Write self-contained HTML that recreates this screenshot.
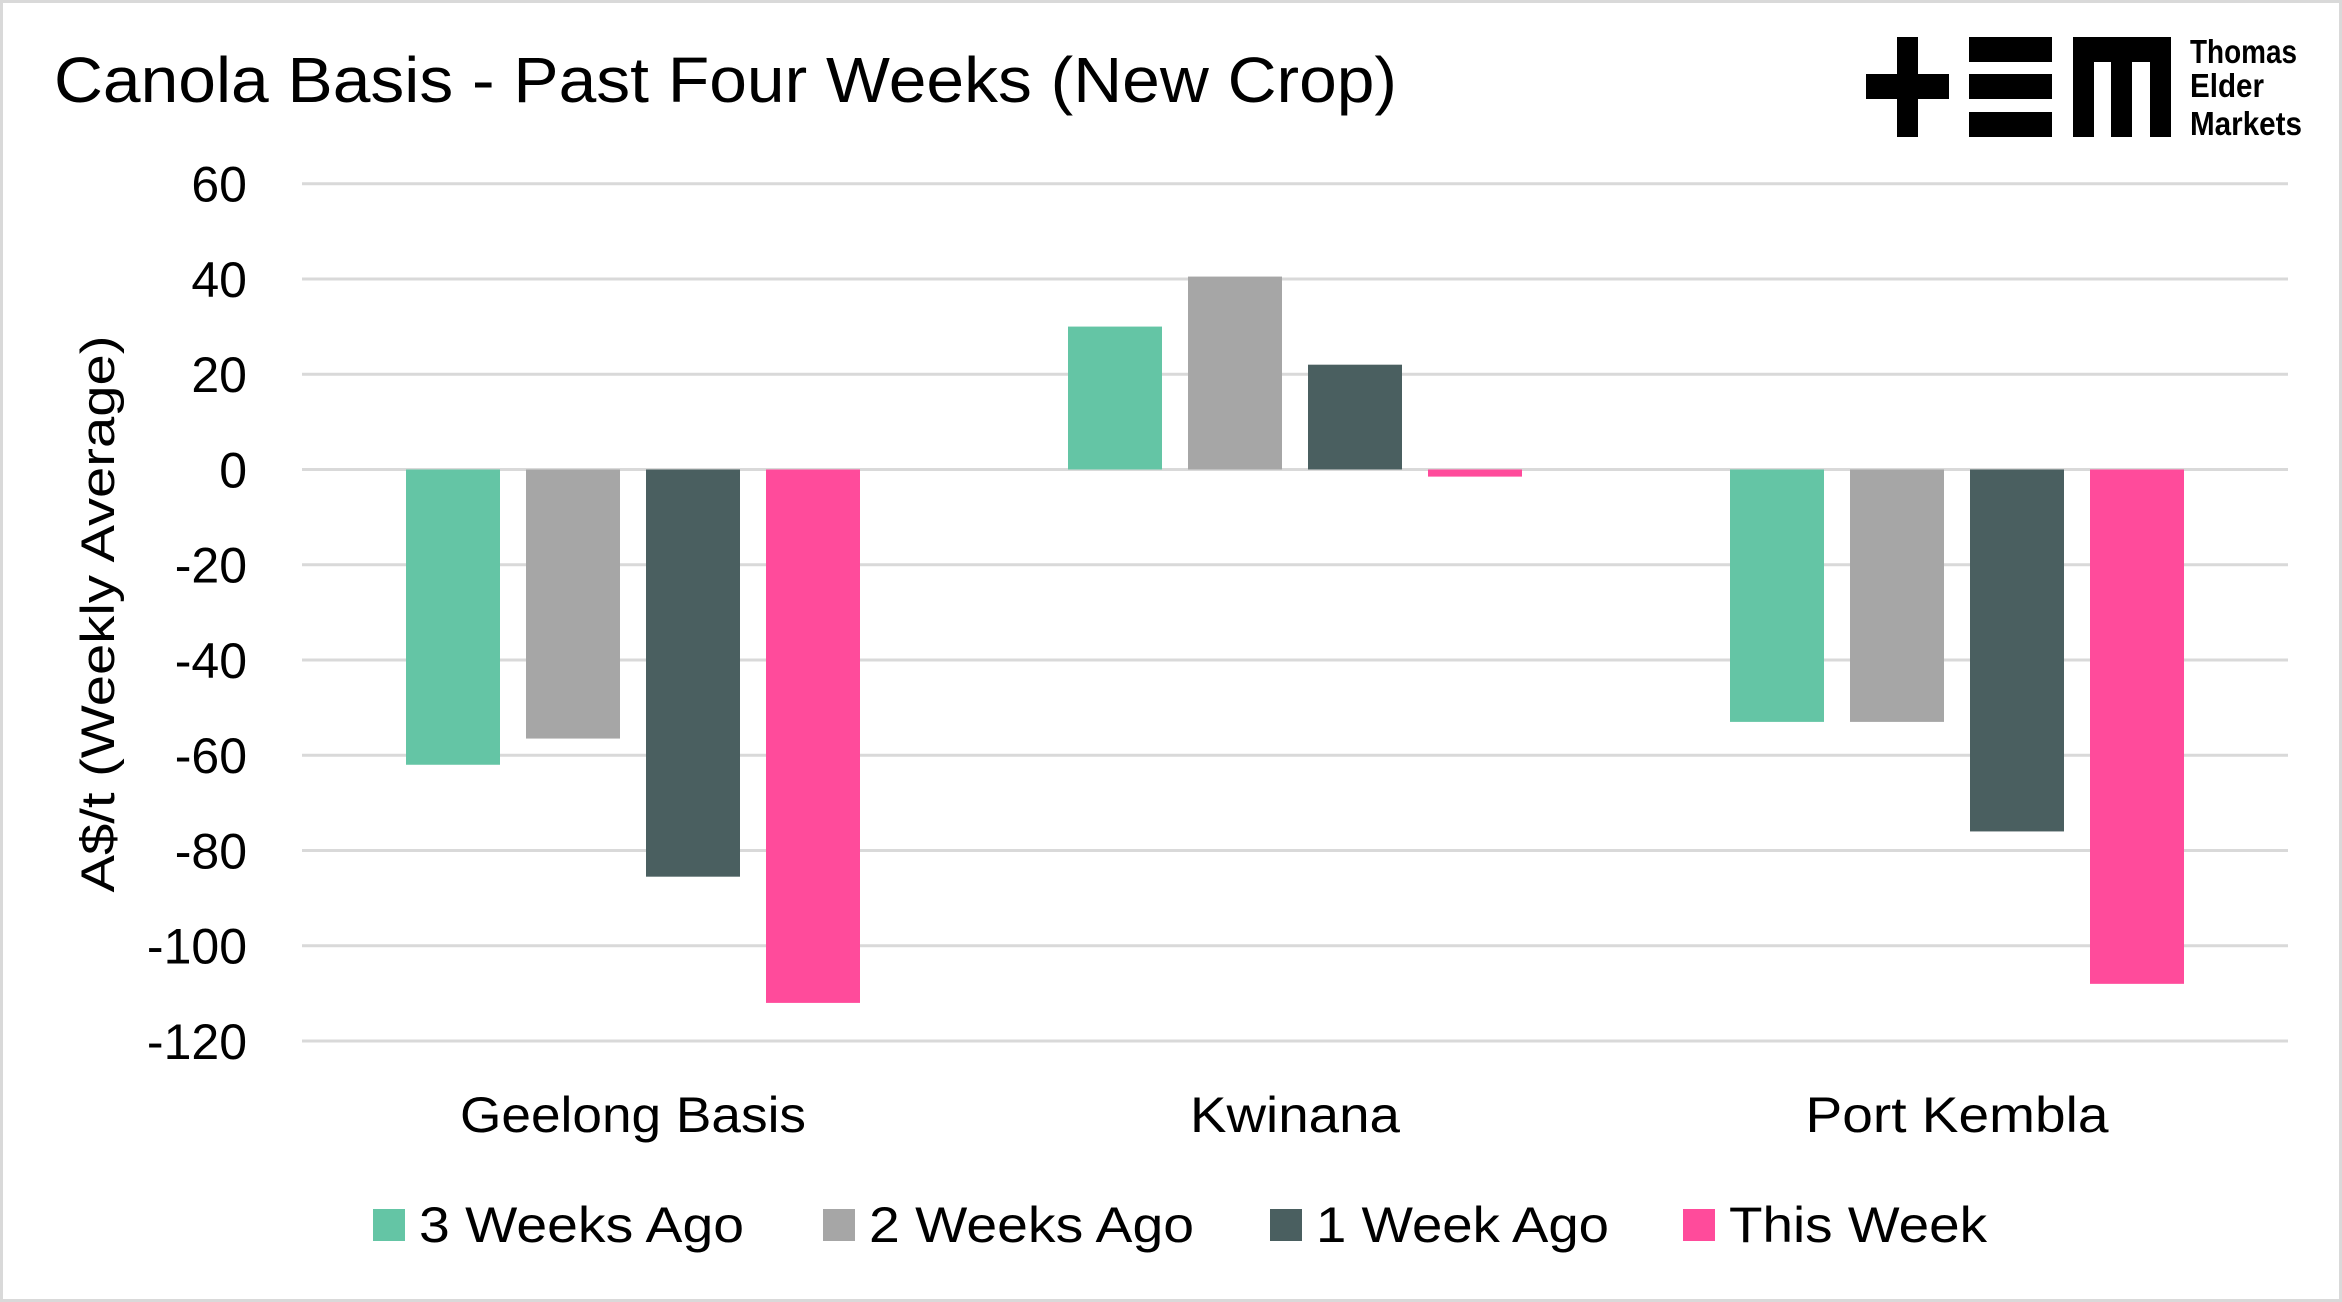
<!DOCTYPE html>
<html><head><meta charset="utf-8"><style>
html,body{margin:0;padding:0;background:#fff}
svg{display:block;font-family:"Liberation Sans",sans-serif}
</style></head><body>
<svg id="chart" width="2342" height="1302" viewBox="0 0 2342 1302" xmlns="http://www.w3.org/2000/svg">
<rect x="1.5" y="1.5" width="2339" height="1299" fill="#fff" stroke="#d9d9d9" stroke-width="3"/>
<text x="54" y="102" font-size="64" textLength="1343" lengthAdjust="spacingAndGlyphs" fill="#000">Canola Basis - Past Four Weeks (New Crop)</text>
<g fill="#000">
<rect x="1897" y="37" width="21" height="100"/><rect x="1866" y="74" width="83" height="25"/>
<rect x="1969" y="37" width="83" height="25"/><rect x="1969" y="74" width="83" height="25"/><rect x="1969" y="112" width="83" height="25"/>
<rect x="2073" y="37" width="98" height="25"/><rect x="2073" y="37" width="21" height="100"/><rect x="2111" y="37" width="21" height="100"/><rect x="2150" y="37" width="21" height="100"/>
<text x="2190" y="63" font-size="33" font-weight="bold" textLength="107" lengthAdjust="spacingAndGlyphs">Thomas</text>
<text x="2190" y="97" font-size="33" font-weight="bold" textLength="74" lengthAdjust="spacingAndGlyphs">Elder</text>
<text x="2190" y="135" font-size="33" font-weight="bold" textLength="112" lengthAdjust="spacingAndGlyphs">Markets</text>
</g>
<g id="grid"></g><g id="bars"></g><g id="axes"></g><g id="legend"></g>
<text transform="translate(114,614) rotate(-90)" text-anchor="middle" font-size="47" textLength="557" lengthAdjust="spacingAndGlyphs">A$/t (Weekly Average)</text>
</svg>
<script>
const categories = ["Geelong Basis","Kwinana","Port Kembla"];
const seriesNames = ["3 Weeks Ago","2 Weeks Ago","1 Week Ago","This Week"];
const weeks3 = [-62, 30, -53];
const weeks2 = [-56.5, 40.5, -53];
const weeks1 = [-85.5, 22, -76];
const thisWeek = [-112, -1.5, -108];
const yTicks = [60,40,20,0,-20,-40,-60,-80,-100,-120];
const colors = ["#64c5a5","#a6a6a6","#4a5f60","#ff4b9b"];
const series = [weeks3, weeks2, weeks1, thisWeek];
const NS = "http://www.w3.org/2000/svg";
const L=302, R=2288, T=183.7, B=1041, yMax=60, yMin=-120;
const y = v => T + (yMax - v) / (yMax - yMin) * (B - T);
const band = (R - L) / categories.length;
const step = 120, bw = 94;
const x = (ci, si) => L + band*(ci+0.5) - (step*series.length - (step-bw))/2 + si*step;
function mk(tag, attrs, parent){const e=document.createElementNS(NS,tag);for(const k in attrs)e.setAttribute(k,attrs[k]);parent.appendChild(e);return e;}
const grid=document.getElementById('grid'), bars=document.getElementById('bars'), axes=document.getElementById('axes'), legend=document.getElementById('legend');
yTicks.forEach(t=>{
  const ln=mk('line',{x1:L,x2:R,y1:y(t),y2:y(t),stroke:'#d9d9d9','stroke-width':3},grid);
  
  
  const tx=mk('text',{x:247,y:y(t)+18,'text-anchor':'end','font-size':50},axes);
  tx.textContent=t;
  
  
});
series.forEach((s,si)=>{
  s.forEach((v,ci)=>{
    const y0=y(0), yv=y(v);
    const r=mk('rect',{x:x(ci,si),y:Math.min(y0,yv),width:bw,height:Math.abs(yv-y0),fill:colors[si]},bars);
    
    
  });
});
const catW=[346,210,303];
categories.forEach((c,ci)=>{
  const tx=mk('text',{x:L+band*(ci+0.5),y:1132,'text-anchor':'middle','font-size':50,textLength:catW[ci],lengthAdjust:'spacingAndGlyphs'},axes);
  tx.textContent=c;
  
  
});
const legX=[373,823,1270,1683], legW=[325,325,293,258];
seriesNames.forEach((n,i)=>{
  const g=mk('g',{},legend);
  
  
  mk('rect',{x:legX[i],y:1209,width:32,height:32,fill:colors[i]},g);
  const tx=mk('text',{x:legX[i]+46,y:1242,'font-size':50,textLength:legW[i],lengthAdjust:'spacingAndGlyphs'},g);
  tx.textContent=n;
});
</script>
</body></html>
